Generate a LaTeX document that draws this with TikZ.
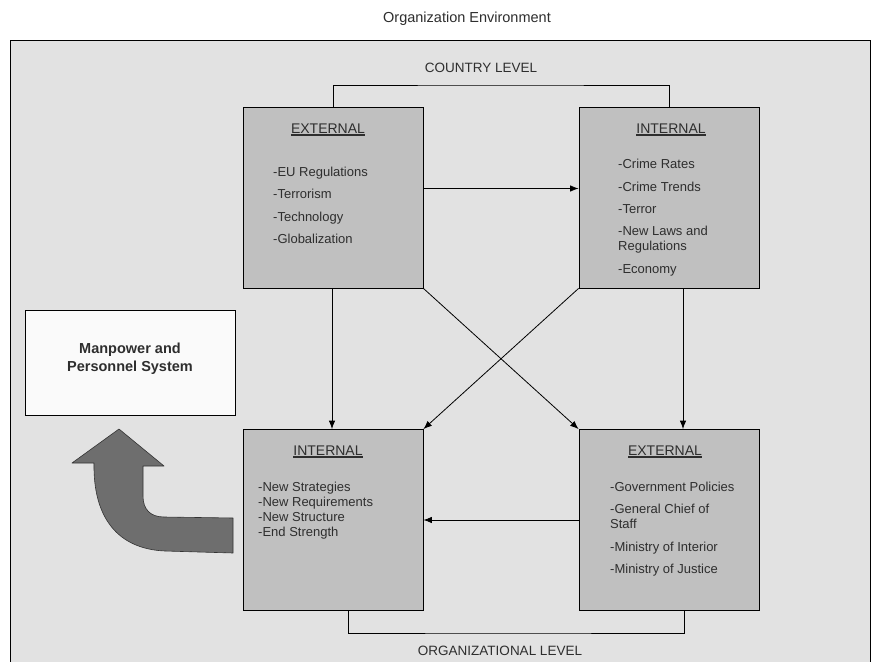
\documentclass[tikz,border=0pt]{standalone}
\usepackage{fontspec}
\setmainfont{Liberation Sans}
\usetikzlibrary{arrows.meta}
\definecolor{frameback}{HTML}{E2E2E2}
\definecolor{boxfill}{HTML}{C0C0C0}
\definecolor{inktext}{HTML}{2E2E2E}
\definecolor{bigarrow}{HTML}{6E6E6E}
% heading with a heavier underline
\newcommand{\ulhead}[1]{\setbox0\hbox{#1}\rlap{\rule[-2.6pt]{\wd0}{1.3pt}}\box0}
\begin{document}
\begin{tikzpicture}[x=1pt,y=-1pt,
  levelbox/.style={draw=black,line width=0.8pt,fill=boxfill,minimum width=180pt,minimum height=181pt,inner sep=0pt},
  head/.style={text=inktext,font=\fontsize{14}{16}\selectfont,anchor=base,inner sep=0pt},
  item/.style={text=inktext,font=\fontsize{13}{15}\selectfont,anchor=base west,inner sep=0pt},
  levellabel/.style={text=inktext,font=\fontsize{13.5}{16}\selectfont,anchor=base,inner sep=0pt},
  link/.style={draw=black,line width=0.8pt,-{Latex[length=8.5pt,width=6.5pt]}},
  bracket/.style={draw=black,line width=0.8pt}]
\useasboundingbox (0,0) rectangle (872,661);
\fill[white] (0,0) rectangle (872,661);
\begin{scope}
\clip (0,0) rectangle (872,661);
% environment frame
\draw[fill=frameback,line width=0.9pt] (10,40.5) rectangle (870,680);
\end{scope}

\node[text=inktext,font=\fontsize{14.5}{16}\selectfont,anchor=base] (title) at (467,23) {Organization Environment};

% four boxes
\node[levelbox] (tl) at (333,197.5) {};
\node[levelbox] (tr) at (669,197.5) {};
\node[levelbox] (bl) at (333,520) {};
\node[levelbox] (br) at (669,520) {};

% headings
\node[head] (tlh) at (328,133) {\ulhead{EXTERNAL}};
\node[head] (trh) at (671,133) {\ulhead{INTERNAL}};
\node[head] (blh) at (328,455) {\ulhead{INTERNAL}};
\node[head] (brh) at (665,455) {\ulhead{EXTERNAL}};

% country level, external
\node[item] (tl1) at (273,176) {-EU Regulations};
\node[item] (tl2) at (273,198.5) {-Terrorism};
\node[item] (tl3) at (273,221) {-Technology};
\node[item] (tl4) at (273,243.5) {-Globalization};

% country level, internal
\node[item] (tr1) at (618,168) {-Crime Rates};
\node[item] (tr2) at (618,191) {-Crime Trends};
\node[item] (tr3) at (618,213) {-Terror};
\node[item] (tr4) at (618,235.5) {-New Laws and};
\node[item] (tr4b) at (618,250.5) {Regulations};
\node[item] (tr5) at (618,273) {-Economy};

% organizational level, internal
\node[item] (bl1) at (258,491) {-New Strategies};
\node[item] (bl2) at (258,506) {-New Requirements};
\node[item] (bl3) at (258,521) {-New Structure};
\node[item] (bl4) at (258,536) {-End Strength};

% organizational level, external
\node[item] (br1) at (610,491) {-Government Policies};
\node[item] (br2) at (610,513) {-General Chief of};
\node[item] (br2b) at (610,528) {Staff};
\node[item] (br3) at (610,551) {-Ministry of Interior};
\node[item] (br4) at (610,573) {-Ministry of Justice};

% level brackets
\coordinate (ctry) at (500,85);
\coordinate (orgl) at (500,633);
\draw[bracket] (tl.north) |- (ctry) -| (tr.north);
\draw[bracket] ([xshift=15pt]bl.south) |- (orgl) -| ([xshift=15pt]br.south);
\node[levellabel] (ctryl) at (481,73) {COUNTRY LEVEL};
\node[levellabel] (orgtxt) at (500,655) {ORGANIZATIONAL LEVEL};

% influences
\draw[link] ([yshift=9pt]tl.east) -- ([yshift=9pt]tr.west);
\draw[link] ([xshift=-1pt]tl.south) -- ([xshift=-1pt]bl.north);
\draw[link] ([xshift=14pt]tr.south) -- ([xshift=14pt]br.north);
\draw[link] (tl.south east) -- (br.north west);
\draw[link] (tr.south west) -- (bl.north east);
\draw[link] (br.west) -- (bl.east);

% manpower system
\node[draw=black,line width=0.8pt,fill=white!98!black,minimum width=210pt,minimum height=105pt,inner sep=0pt] (mp) at (130.5,363) {};
\node[font=\bfseries\fontsize{14.5}{18}\selectfont,text=inktext,align=center,anchor=north] (mpt) at (130,339) {Manpower and\\Personnel System};

% curved feedback arrow
\draw[fill=bigarrow,draw=black!80,line width=0.6pt,line join=round]
  (119,429) -- (164,466) -- (143,466) -- (143,496)
  .. controls (143,509) and (150,517) .. (164,517)
  -- (233,518) -- (233,553) -- (165,551)
  .. controls (118,549) and (93,518) .. (94,463)
  -- (72,463) -- cycle;
\end{tikzpicture}
\end{document}
